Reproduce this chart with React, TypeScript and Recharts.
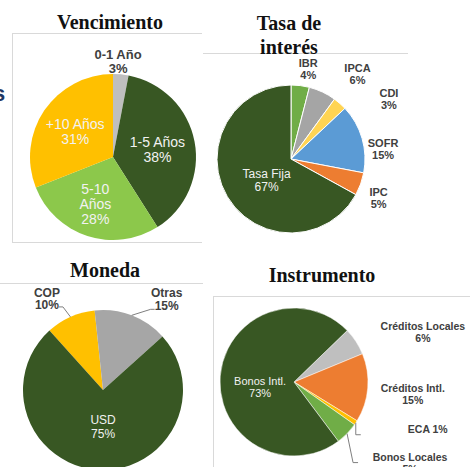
import React from 'react';
import { PieChart, Pie, Cell } from 'recharts';

// Vencimiento
const vencNames = ['0-1 Año', '1-5 Años', '5-10\nAños', '+10 Años'];
const vencValues = [3, 38, 28, 31];
const vencColors = ['#BFBFBF', '#385723', '#8CC84B', '#FFC000'];

// Tasa de interés
const tasaNames = ['IBR', 'IPCA', 'CDI', 'SOFR', 'IPC', 'Tasa Fija'];
const tasaValues = [4, 6, 3, 15, 5, 67];
const tasaColors = ['#70AD47', '#A5A5A5', '#FFD453', '#5B9BD5', '#ED7D31', '#385723'];

// Moneda
const monNames = ['COP', 'Otras', 'USD'];
const monValues = [10, 15, 75];
const monColors = ['#FFC000', '#A6A6A6', '#385723'];

// Instrumento
const instNames = ['Créditos Locales', 'Créditos Intl.', 'ECA', 'Bonos Locales', 'Bonos Intl.'];
const instValues = [6, 15, 1, 5, 73];
const instColors = ['#BFBFBF', '#ED7D31', '#FFC000', '#70AD47', '#385723'];

const toRows = (names: string[], values: number[]) =>
  names.map((name, i) => ({ name, value: values[i] }));

// where each label sits: r = fraction of the radius along the slice middle, then a nudge
type Spot = { r: number; dx: number; dy: number; inside?: boolean; oneLine?: boolean; leader?: number[][] };

const vencSpots: Spot[] = [
  { r: 1.16, dx: -4, dy: 0 },
  { r: 0.545, dx: 0, dy: 1, inside: true },
  { r: 0.61, dx: -2, dy: -1, inside: true },
  { r: 0.55, dx: 0, dy: 0, inside: true },
];
const tasaSpots: Spot[] = [
  { r: 1, dx: 8, dy: -16 },
  { r: 1, dx: 35, dy: -18 },
  { r: 1, dx: 49, dy: -4 },
  { r: 1, dx: 21, dy: 11 },
  { r: 1, dx: 18, dy: 14 },
  { r: 0.43, dx: 3, dy: 5, inside: true },
];
const monSpots: Spot[] = [
  { r: 1, dx: -23.5, dy: -18, leader: [[16, 8], [12, 8]] },
  { r: 1, dx: 35, dy: -16, leader: [[-16, 10], [-12, 10]] },
  { r: 0.46, dx: 2, dy: 0, inside: true },
];
const instSpots: Spot[] = [
  { r: 1, dx: 67, dy: -9.5 },
  { r: 1, dx: 45, dy: 6 },
  { r: 1, dx: 72, dy: 7, oneLine: true, leader: [[-72, 5], [-67, 5]] },
  { r: 1, dx: 63, dy: 30, leader: [[-57, -1], [-52, -1]] },
  { r: 0.46, dx: 0, dy: 8, inside: true },
];

type LabelStyle = { outSize: number; inSize: number; outLh: number; inLh: number };

const makeLabel = (names: string[], values: number[], spots: Spot[], st: LabelStyle) => (props: any) => {
  const { cx, cy, midAngle, outerRadius, index } = props;
  const s = spots[index];
  const a = (-midAngle * Math.PI) / 180;
  const ex = cx + outerRadius * Math.cos(a);
  const ey = cy + outerRadius * Math.sin(a);
  const x = cx + s.r * outerRadius * Math.cos(a) + s.dx;
  const y = cy + s.r * outerRadius * Math.sin(a) + s.dy;
  const lines = s.oneLine
    ? [`${names[index]} ${values[index]}%`]
    : [...names[index].split('\n'), `${values[index]}%`];
  const size = s.inside ? st.inSize : st.outSize;
  const lh = s.inside ? st.inLh : st.outLh;
  const y0 = y - ((lines.length - 1) * lh) / 2 + size * 0.35;
  const pts = s.leader
    ? [[ex, ey], ...s.leader.map(([px, py]) => [x + px, y + py])].map((p) => p.join(',')).join(' ')
    : null;
  return (
    <g key={`lbl-${index}`}>
      {pts && <polyline points={pts} fill="none" stroke="#7F7F7F" strokeWidth={1} />}
      <text
        x={x}
        y={y0}
        textAnchor="middle"
        fontFamily="'Liberation Sans', Arial, sans-serif"
        fontSize={size}
        fontWeight={s.inside ? 400 : 700}
        fill={s.inside ? '#F2F2F2' : '#404040'}
      >
        {lines.map((t, i) => (
          <tspan key={i} x={x} y={y0 + i * lh}>
            {t}
          </tspan>
        ))}
      </text>
    </g>
  );
};

const titleStyle = {
  fontFamily: "'Liberation Serif', 'Times New Roman', serif",
  fontWeight: 700,
  fontSize: 20,
  fill: '#111',
};

export default function App() {
  return (
    <div style={{ position: 'absolute', left: 0, top: 0, width: 470, height: 467, background: '#fff', overflow: 'hidden' }}>
      <svg width={470} height={467} style={{ position: 'absolute', left: 0, top: 0 }}>
        <g stroke="#D9D9D9" strokeWidth={1}>
          <line x1={12} y1={33.5} x2={202} y2={33.5} />
          <line x1={12.5} y1={33} x2={12.5} y2={242} />
          <line x1={12} y1={242.5} x2={202} y2={242.5} />
          <line x1={203} y1={53.5} x2={408} y2={53.5} />
          <line x1={0} y1={283.5} x2={203} y2={283.5} />
          <line x1={213} y1={296.5} x2={470} y2={296.5} />
          <line x1={213.5} y1={296} x2={213.5} y2={467} />
        </g>
        <text x={-7} y={101} fontFamily="'Liberation Sans', Arial, sans-serif" fontWeight={700} fontSize={22} fill="#1F3864">
          s
        </text>
      </svg>

      <div style={{ position: 'absolute', left: 0, top: 0 }}>
        <PieChart width={470} height={467} margin={{ top: 0, right: 0, bottom: 0, left: 0 }}>
          <Pie
            data={toRows(vencNames, vencValues)}
            dataKey="value"
            nameKey="name"
            cx={113}
            cy={157}
            outerRadius={83}
            startAngle={90}
            endAngle={-270}
            stroke="none"
            isAnimationActive={false}
            labelLine={false}
            label={makeLabel(vencNames, vencValues, vencSpots, { outSize: 13, inSize: 14, outLh: 14, inLh: 15 })}
          >
            {vencColors.map((c, i) => <Cell key={i} fill={c} />)}
          </Pie>
          <Pie
            data={toRows(tasaNames, tasaValues)}
            dataKey="value"
            nameKey="name"
            cx={291}
            cy={159}
            outerRadius={74}
            startAngle={90}
            endAngle={-270}
            stroke="#fff"
            strokeWidth={1}
            isAnimationActive={false}
            labelLine={false}
            label={makeLabel(tasaNames, tasaValues, tasaSpots, { outSize: 11, inSize: 12, outLh: 12, inLh: 13 })}
          >
            {tasaColors.map((c, i) => <Cell key={i} fill={c} />)}
          </Pie>
          <Pie
            data={toRows(monNames, monValues)}
            dataKey="value"
            nameKey="name"
            cx={103}
            cy={390}
            outerRadius={80}
            startAngle={132}
            endAngle={-228}
            stroke="none"
            isAnimationActive={false}
            labelLine={false}
            label={makeLabel(monNames, monValues, monSpots, { outSize: 12, inSize: 12, outLh: 12.5, inLh: 14 })}
          >
            {monColors.map((c, i) => <Cell key={i} fill={c} />)}
          </Pie>
          <Pie
            data={toRows(instNames, instValues)}
            dataKey="value"
            nameKey="name"
            cx={294}
            cy={382}
            outerRadius={74}
            startAngle={44}
            endAngle={-316}
            stroke="#fff"
            strokeWidth={0.5}
            isAnimationActive={false}
            labelLine={false}
            label={makeLabel(instNames, instValues, instSpots, { outSize: 10.5, inSize: 11, outLh: 12, inLh: 11.5 })}
          >
            {instColors.map((c, i) => <Cell key={i} fill={c} />)}
          </Pie>
        </PieChart>
      </div>

      <svg width={470} height={467} style={{ position: 'absolute', left: 0, top: 0, pointerEvents: 'none' }}>
        <text x={110} y={29} textAnchor="middle" {...titleStyle}>Vencimiento</text>
        <text x={289} y={30} textAnchor="middle" {...titleStyle}>Tasa de</text>
        <text x={289} y={54} textAnchor="middle" {...titleStyle}>interés</text>
        <text x={105} y={277} textAnchor="middle" {...titleStyle}>Moneda</text>
        <text x={322} y={282} textAnchor="middle" {...titleStyle}>Instrumento</text>
      </svg>
    </div>
  );
}
